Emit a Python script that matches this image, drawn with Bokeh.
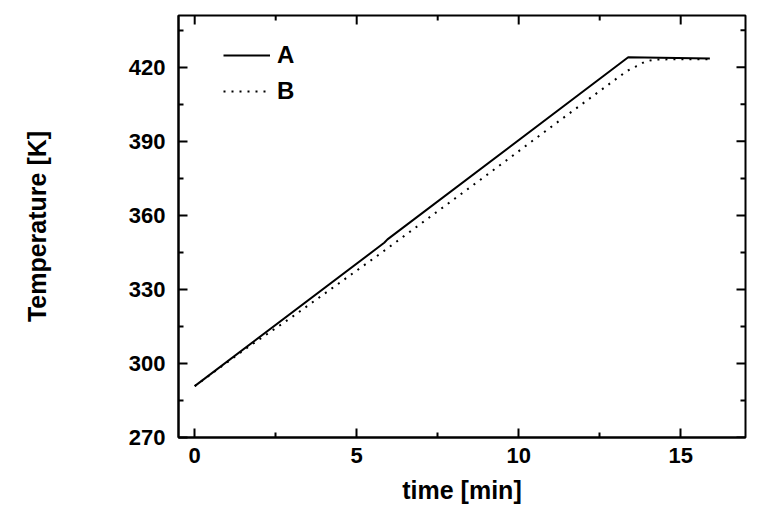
import math
from bokeh.plotting import figure
from bokeh.models import Range1d, FixedTicker, Legend, LegendItem
from bokeh.embed import file_html
from bokeh.resources import INLINE

# Data
a_time = [0.0, 5.85, 5.95, 13.38, 15.9]
a_temp = [290.8, 348.9, 350.3, 424.1, 423.6]

b_time = [0.0, 1.6, 3.0, 5.77, 9.04, 11.24, 13.08, 13.35, 13.61, 13.9, 14.2, 15.9]
b_temp = [290.8, 306.2, 318.8, 344.9, 376.6, 398.2, 416.0, 418.6, 420.3, 422.3, 423.2, 423.3]

x_ticks = [0, 5, 10, 15]
x_minor = [2.5, 7.5, 12.5]
y_ticks = [270, 300, 330, 360, 390, 420]
y_minor = [285, 315, 345, 375, 405, 435]

X_START, X_END = -0.5, 17
Y_START, Y_END = 270, 441

FONT = "Liberation Sans"

p = figure(width=779, height=526, output_backend="svg", toolbar_location=None,
           x_range=Range1d(X_START, X_END), y_range=Range1d(Y_START, Y_END),
           min_border_left=178, min_border_right=34, min_border_top=15, min_border_bottom=89)
p.background_fill_color = "white"
p.border_fill_color = "white"
p.xgrid.visible = False
p.ygrid.visible = False
p.outline_line_color = "black"
p.outline_line_width = 2


def style(ax):
    ax.axis_line_color = "black"
    ax.axis_line_width = 2
    ax.major_tick_in = 9
    ax.major_tick_out = 0
    ax.minor_tick_in = 5
    ax.minor_tick_out = 0
    ax.major_tick_line_width = 2
    ax.minor_tick_line_width = 2
    ax.major_tick_line_color = "black"
    ax.minor_tick_line_color = "black"
    ax.major_label_text_font = FONT
    ax.major_label_text_font_style = "bold"
    ax.major_label_text_font_size = "22px"
    ax.major_label_text_color = "black"
    ax.axis_label_text_font = FONT
    ax.axis_label_text_font_style = "bold"
    ax.axis_label_text_font_size = "25px"
    ax.axis_label_text_color = "black"

p.xaxis.ticker = FixedTicker(ticks=x_ticks, minor_ticks=x_minor)
p.yaxis.ticker = FixedTicker(ticks=y_ticks, minor_ticks=y_minor)
style(p.xaxis[0])
style(p.yaxis[0])
p.xaxis.axis_label = "time [min]"
p.yaxis.axis_label = "Temperature [K]"
p.xaxis.major_label_standoff = 10
p.yaxis.major_label_standoff = 13
p.xaxis.axis_label_standoff = 10
p.yaxis.axis_label_standoff = 75

# Mirror ticks on the top and right frame edges (markers centred on the edge,
# the frame clips the outer half so only the inward half shows)
p.scatter(x_ticks, [Y_END] * len(x_ticks), marker="dash", angle=math.pi / 2,
          size=18, line_color="black", line_width=2)
p.scatter(x_minor, [Y_END] * len(x_minor), marker="dash", angle=math.pi / 2,
          size=10, line_color="black", line_width=2)
p.scatter([X_END] * len(y_ticks), y_ticks, marker="dash",
          size=18, line_color="black", line_width=2)
p.scatter([X_END] * len(y_minor), y_minor, marker="dash",
          size=10, line_color="black", line_width=2)

ra = p.line(a_time, a_temp, line_color="black", line_width=2)
rb = p.line(b_time, b_temp, line_color="black", line_width=2, line_dash="2 6")

legend = Legend(items=[LegendItem(label="A", renderers=[ra]),
                       LegendItem(label="B", renderers=[rb])],
                location=(45, 332))
legend.border_line_color = None
legend.background_fill_alpha = 0
legend.padding = 0
legend.margin = 0
legend.spacing = 8
legend.glyph_width = 47
legend.glyph_height = 26
legend.label_height = 26
legend.label_standoff = 7
legend.label_text_font = FONT
legend.label_text_font_style = "bold"
legend.label_text_font_size = "24px"
legend.label_text_color = "black"
p.add_layout(legend, "center")

open("out.html", "w").write(file_html(p, INLINE))
